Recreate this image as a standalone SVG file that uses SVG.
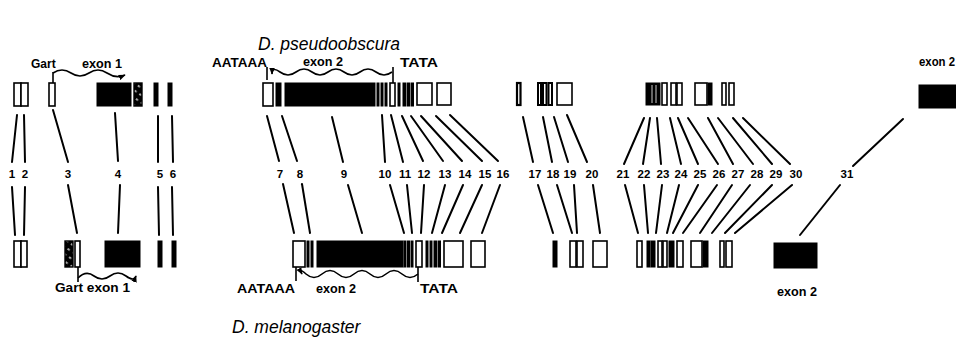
<svg xmlns="http://www.w3.org/2000/svg" width="956" height="348" viewBox="0 0 956 348">
  <style>
    .title { font-family: "Liberation Sans", Arial, sans-serif; font-style: italic; font-size: 17.5px; fill: #000; }
    .lab { font-family: "Liberation Sans", Arial, sans-serif; font-weight: bold; font-size: 12px; fill: #000; }
    .num { font-family: "Liberation Sans", Arial, sans-serif; font-weight: bold; font-size: 11.5px; fill: #000; text-anchor: middle; }
    .o { fill: #fff; stroke: #000; stroke-width: 1.6; }
    .b { fill: #000; stroke: #000; stroke-width: 1; }
    .h { fill: url(#hatch); stroke: #000; stroke-width: 1.4; }
    .c line { stroke: #000; stroke-width: 2; stroke-linecap: round; }
    .br { fill: none; stroke: #000; stroke-width: 1.6; }
  </style>
  <defs>
    <pattern id="hatch" patternUnits="userSpaceOnUse" width="6" height="6" patternTransform="rotate(35)">
      <rect width="6" height="6" fill="#000"/>
      <line x1="0" y1="3" x2="2.5" y2="3" stroke="#fff" stroke-width="1.3"/>
    </pattern>
    <marker id="arr" viewBox="0 0 10 10" refX="9" refY="5" markerWidth="7" markerHeight="7" orient="auto-start-reverse" markerUnits="userSpaceOnUse">
      <path d="M0,1 L10,5 L0,9 z" fill="#000"/>
    </marker>
  </defs>

  <!-- species names -->
  <text class="title" x="258" y="50">D. pseudoobscura</text>
  <text class="title" x="232" y="333">D. melanogaster</text>

  <!-- D. pseudoobscura gene row -->
  <g id="pseudo-1-2"><rect class="o" x="14" y="83" width="7" height="23"/><rect class="o" x="21" y="83" width="7" height="23"/></g>
  <g id="pseudo-3"><rect class="o" x="49" y="83" width="6" height="23"/></g>
  <g id="pseudo-4"><rect class="b" x="97" y="83" width="34" height="23"/><rect class="h" x="134" y="83" width="8" height="23"/></g>
  <g id="pseudo-5"><rect class="b" x="154" y="83" width="4" height="23"/></g>
  <g id="pseudo-6"><rect class="b" x="168" y="83" width="4" height="23"/></g>
  <g id="pseudo-7"><rect class="o" x="263" y="83" width="10" height="23"/></g>
  <g id="pseudo-8"><rect class="b" x="276" y="83" width="5" height="23"/></g>
  <g id="pseudo-9"><rect class="b" x="285" y="83" width="90" height="23"/></g>
  <g id="pseudo-10"><rect class="b" x="377" y="83" width="2" height="23"/><rect class="b" x="381" y="83" width="2" height="23"/><rect class="b" x="385" y="83" width="2" height="23"/></g>
  <g id="pseudo-11"><rect class="o" x="390" y="83" width="5" height="23"/><rect class="b" x="398" y="83" width="2" height="23"/></g>
  <g id="pseudo-12-13"><rect class="b" x="403" y="83" width="2.5" height="23"/><rect class="b" x="407" y="83" width="2.5" height="23"/><rect class="b" x="411" y="83" width="2.5" height="23"/></g>
  <g id="pseudo-14-15"><rect class="o" x="417" y="83" width="15" height="22"/></g>
  <g id="pseudo-16"><rect class="o" x="437" y="83" width="14" height="22"/></g>
  <g id="pseudo-17"><rect class="o" x="517" y="83" width="3.5" height="22" style="stroke-width:2.2"/></g>
  <g id="pseudo-18-19"><rect class="o" x="538" y="83" width="3" height="22" style="stroke-width:2"/><rect class="o" x="543" y="83" width="3.5" height="22" style="stroke-width:2"/><rect class="o" x="548.5" y="83" width="3.5" height="22" style="stroke-width:2"/></g>
  <g id="pseudo-20"><rect class="o" x="557" y="83" width="15" height="22"/></g>
  <g id="pseudo-21-30">
    <rect class="b" x="646" y="83" width="14" height="22"/>
    <line x1="652" y1="85" x2="652" y2="103" stroke="#fff" stroke-width="0.8"/>
    <line x1="656" y1="85" x2="656" y2="103" stroke="#fff" stroke-width="0.8"/>
    <rect class="o" x="662" y="83" width="5" height="22"/>
    <rect class="o" x="671" y="83" width="5" height="22"/>
    <rect class="o" x="677" y="83" width="5" height="22"/>
    <rect class="o" x="695" y="83" width="12" height="22"/>
    <rect class="b" x="708" y="83" width="4" height="22"/>
    <rect class="o" x="722" y="83" width="4" height="22"/>
    <rect class="o" x="729" y="83" width="5" height="22"/>
  </g>
  <g id="pseudo-31"><rect class="b" x="919" y="85" width="40" height="23"/></g>

  <!-- D. melanogaster gene row -->
  <g id="mel-1-2"><rect class="o" x="14" y="241" width="7" height="26"/><rect class="o" x="21" y="241" width="6" height="26"/></g>
  <g id="mel-3"><rect class="h" x="65" y="241" width="8" height="26"/><rect class="o" x="75" y="241" width="5" height="26"/></g>
  <g id="mel-4"><rect class="b" x="105" y="241" width="35" height="26"/></g>
  <g id="mel-5"><rect class="b" x="158" y="241" width="4" height="26"/></g>
  <g id="mel-6"><rect class="b" x="172" y="241" width="4" height="26"/></g>
  <g id="mel-7"><rect class="o" x="293" y="241" width="12" height="26"/></g>
  <g id="mel-8"><rect class="b" x="307" y="241" width="2" height="26"/><rect class="b" x="311" y="241" width="2" height="26"/></g>
  <g id="mel-9"><rect class="b" x="317" y="241" width="86" height="26"/></g>
  <g id="mel-10"><rect class="b" x="404" y="241" width="2" height="26"/><rect class="b" x="407.5" y="241" width="2" height="26"/><rect class="b" x="411" y="241" width="2" height="26"/></g>
  <g id="mel-11"><rect class="o" x="416" y="241" width="6" height="26"/></g>
  <g id="mel-12-13"><rect class="b" x="426" y="241" width="2" height="26"/><rect class="b" x="430" y="241" width="2" height="26"/><rect class="b" x="434" y="241" width="2.5" height="26"/><rect class="b" x="438" y="241" width="2.5" height="26"/></g>
  <g id="mel-14-15"><rect class="o" x="444" y="241" width="19" height="26"/></g>
  <g id="mel-16"><rect class="o" x="471" y="241" width="14" height="26"/></g>
  <g id="mel-17"><rect class="b" x="553" y="241" width="4" height="26"/></g>
  <g id="mel-18-19"><rect class="o" x="570" y="241" width="6" height="26"/><rect class="o" x="577" y="241" width="6" height="26"/></g>
  <g id="mel-20"><rect class="o" x="593" y="241" width="14" height="26"/></g>
  <g id="mel-21-30">
    <rect class="o" x="637" y="241" width="5" height="26"/>
    <rect class="b" x="647" y="241" width="3" height="26"/>
    <rect class="b" x="651" y="241" width="4" height="26"/>
    <rect class="o" x="658" y="241" width="4" height="26"/>
    <rect class="o" x="663" y="241" width="4" height="26"/>
    <rect class="b" x="669" y="241" width="5" height="26"/>
    <rect class="o" x="677" y="241" width="6" height="26"/>
    <rect class="o" x="691" y="241" width="11" height="26"/>
    <rect class="b" x="703" y="241" width="5" height="26"/>
    <rect class="o" x="720" y="241" width="4" height="26"/>
    <rect class="o" x="726" y="241" width="6" height="26"/>
  </g>
  <g id="mel-31"><rect class="b" x="774" y="243" width="43" height="25"/></g>

  <!-- exon brackets and labels -->
  <g id="brackets">
    <text class="lab" x="31" y="68">Gart</text>
    <text class="lab" x="82" y="68" textLength="40" lengthAdjust="spacingAndGlyphs">exon 1</text>
    <line class="br" x1="53" y1="72" x2="53" y2="83"/>
    <path class="br" d="M53,73 q9,-6 18,0 t18,0 t18,0 t18,2" marker-end="url(#arr)"/>

    <text class="lab" x="212" y="67" textLength="55" lengthAdjust="spacingAndGlyphs">AATAAA</text>
    <text class="lab" x="303" y="66" textLength="40" lengthAdjust="spacingAndGlyphs">exon 2</text>
    <text class="lab" x="400" y="67" textLength="38" lengthAdjust="spacingAndGlyphs">TATA</text>
    <line class="br" x1="267" y1="67" x2="267" y2="80"/>
    <line class="br" x1="393" y1="67" x2="393" y2="83"/>
    <path class="br" d="M392,72 q-8,6 -16,0 t-16,0 t-16,0 t-16,0 t-16,0 t-16,0 t-16,0 t-8,2" marker-end="url(#arr)"/>

    <text class="lab" x="919" y="66" textLength="36" lengthAdjust="spacingAndGlyphs">exon 2</text>

    <line class="br" x1="78" y1="267" x2="78" y2="282"/>
    <path class="br" d="M78,278 q8,-8 16,-2 t16,0 t16,0 t10,0" marker-end="url(#arr)"/>
    <text class="lab" x="55" y="292" textLength="75" lengthAdjust="spacingAndGlyphs">Gart exon 1</text>

    <line class="br" x1="296" y1="267" x2="296" y2="281"/>
    <line class="br" x1="418" y1="267" x2="418" y2="282"/>
    <path class="br" d="M418,274 q-8,7 -16,0 t-16,0 t-16,0 t-16,0 t-16,0 t-16,0 t-16,0 t-4,0" marker-end="url(#arr)"/>
    <text class="lab" x="237" y="293" textLength="58" lengthAdjust="spacingAndGlyphs">AATAAA</text>
    <text class="lab" x="316" y="293" textLength="40" lengthAdjust="spacingAndGlyphs">exon 2</text>
    <text class="lab" x="420" y="293" textLength="38" lengthAdjust="spacingAndGlyphs">TATA</text>

    <text class="lab" x="777" y="296" textLength="40" lengthAdjust="spacingAndGlyphs">exon 2</text>
  </g>

  <!-- homology connectors between the two rows -->
  <g id="connectors" class="c">
    <line x1="17" y1="115" x2="12" y2="162"/><line x1="12" y1="187" x2="15" y2="235"/>
    <line x1="24" y1="115" x2="25" y2="162"/><line x1="25" y1="187" x2="24" y2="235"/>
    <line x1="53" y1="110" x2="68" y2="162"/><line x1="68" y1="185" x2="77" y2="233"/>
    <line x1="115" y1="113" x2="118" y2="161"/><line x1="120" y1="185" x2="118" y2="233"/>
    <line x1="158" y1="116" x2="158" y2="162"/><line x1="158" y1="187" x2="159" y2="235"/>
    <line x1="172" y1="116" x2="173" y2="162"/><line x1="172" y1="187" x2="173" y2="235"/>

    <line x1="267" y1="116" x2="279" y2="161"/><line x1="283" y1="184" x2="294" y2="233"/>
    <line x1="282" y1="116" x2="297" y2="161"/><line x1="302" y1="184" x2="310" y2="233"/>
    <line x1="332" y1="117" x2="343" y2="162"/><line x1="348" y1="185" x2="362" y2="233"/>
    <line x1="382" y1="115" x2="385" y2="162"/><line x1="390" y1="185" x2="404" y2="233"/>
    <line x1="391" y1="115" x2="403" y2="162"/><line x1="407" y1="185" x2="412" y2="233"/>
    <line x1="402" y1="116" x2="423" y2="161"/><line x1="424" y1="185" x2="421" y2="233"/>
    <line x1="411" y1="116" x2="443" y2="161"/><line x1="445" y1="185" x2="432" y2="233"/>
    <line x1="421" y1="116" x2="462" y2="161"/><line x1="463" y1="185" x2="442" y2="233"/>
    <line x1="436" y1="116" x2="482" y2="161"/><line x1="482" y1="185" x2="460" y2="233"/>
    <line x1="450" y1="115" x2="498" y2="161"/><line x1="500" y1="185" x2="482" y2="233"/>

    <line x1="523" y1="117" x2="533" y2="162"/><line x1="538" y1="185" x2="553" y2="233"/>
    <line x1="543" y1="117" x2="552" y2="162"/><line x1="557" y1="185" x2="572" y2="233"/>
    <line x1="554" y1="117" x2="568" y2="162"/><line x1="574" y1="185" x2="577" y2="233"/>
    <line x1="567" y1="115" x2="587" y2="162"/><line x1="593" y1="185" x2="600" y2="233"/>

    <line x1="644" y1="118" x2="624" y2="164"/><line x1="625" y1="185" x2="638" y2="233"/>
    <line x1="650" y1="118" x2="643" y2="164"/><line x1="644" y1="185" x2="648" y2="233"/>
    <line x1="657" y1="118" x2="661" y2="164"/><line x1="662" y1="185" x2="656" y2="233"/>
    <line x1="670" y1="118" x2="681" y2="164"/><line x1="679" y1="185" x2="667" y2="233"/>
    <line x1="678" y1="118" x2="698" y2="164"/><line x1="698" y1="185" x2="673" y2="233"/>
    <line x1="688" y1="118" x2="718" y2="164"/><line x1="717" y1="185" x2="683" y2="233"/>
    <line x1="708" y1="118" x2="733" y2="164"/><line x1="732" y1="185" x2="700" y2="233"/>
    <line x1="718" y1="118" x2="753" y2="164"/><line x1="750" y1="185" x2="712" y2="233"/>
    <line x1="733" y1="118" x2="772" y2="164"/><line x1="772" y1="185" x2="725" y2="233"/>
    <line x1="743" y1="118" x2="790" y2="164"/><line x1="792" y1="185" x2="735" y2="233"/>

    <line x1="903" y1="119" x2="853" y2="166"/><line x1="840" y1="185" x2="800" y2="235"/>
  </g>

  <!-- exon numbers -->
  <g id="numbers">
    <text class="num" x="12" y="178">1</text>
    <text class="num" x="25" y="178">2</text>
    <text class="num" x="68" y="178">3</text>
    <text class="num" x="118" y="178">4</text>
    <text class="num" x="160" y="178">5</text>
    <text class="num" x="173" y="178">6</text>
    <text class="num" x="280" y="178">7</text>
    <text class="num" x="300" y="178">8</text>
    <text class="num" x="344" y="178">9</text>
    <text class="num" x="385" y="178">10</text>
    <text class="num" x="405" y="178">11</text>
    <text class="num" x="424" y="178">12</text>
    <text class="num" x="445" y="178">13</text>
    <text class="num" x="465" y="178">14</text>
    <text class="num" x="485" y="178">15</text>
    <text class="num" x="503" y="178">16</text>
    <text class="num" x="535" y="178">17</text>
    <text class="num" x="553" y="178">18</text>
    <text class="num" x="570" y="178">19</text>
    <text class="num" x="592" y="178">20</text>
    <text class="num" x="623" y="178">21</text>
    <text class="num" x="644" y="178">22</text>
    <text class="num" x="663" y="178">23</text>
    <text class="num" x="681" y="178">24</text>
    <text class="num" x="700" y="178">25</text>
    <text class="num" x="719" y="178">26</text>
    <text class="num" x="738" y="178">27</text>
    <text class="num" x="757" y="178">28</text>
    <text class="num" x="776" y="178">29</text>
    <text class="num" x="796" y="178">30</text>
    <text class="num" x="847" y="178">31</text>
  </g>
</svg>
